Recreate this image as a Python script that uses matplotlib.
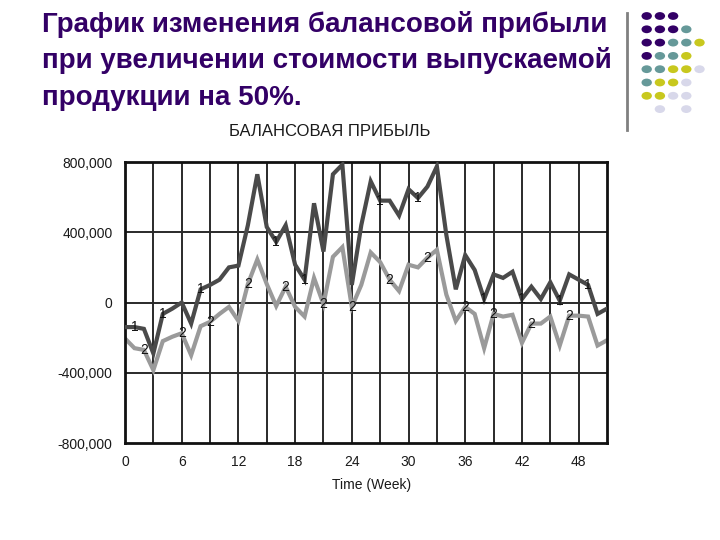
import matplotlib
matplotlib.use("Agg")
import matplotlib.pyplot as plt
from matplotlib.patches import Circle
from matplotlib.lines import Line2D
import numpy as np

# ---- data ----
weeks = list(range(52))
profit_1 = [-140, -140, -150, -290, -65, -35, 0, -120, 75, 100, 130, 200, 210, 440,
            730, 430, 345, 440, 215, 130, 565, 290, 730, 785, 100, 440, 690, 580,
            580, 495, 645, 595, 660, 775, 385, 75, 270, 185, 20, 160, 140, 175,
            20, 90, 20, 115, 10, 160, 130, 100, -65, -35]
profit_2 = [-205, -260, -270, -385, -220, -195, -175, -300, -135, -110, -65, -25, -105, 105,
            245, 105, -20, 90, -25, -80, 140, -10, 260, 315, -25, 100, 285, 230,
            130, 65, 215, 200, 255, 300, 45, -105, -25, -65, -260, -65, -80, -70,
            -230, -120, -120, -80, -245, -75, -75, -80, -245, -215]
profit_1 = [v * 1000 for v in profit_1]
profit_2 = [v * 1000 for v in profit_2]
label_weeks_1 = [1, 4, 8, 16, 19, 27, 31, 38, 42, 46, 49]
label_weeks_2 = [2, 6, 9, 13, 17, 21, 24, 28, 32, 36, 39, 43, 47]
x_ticks = [0, 6, 12, 18, 24, 30, 36, 42, 48]
y_ticks = [-800000, -400000, 0, 400000, 800000]
y_tick_labels = ["-800,000", "-400,000", "0", "400,000", "800,000"]

title_lines = ["График изменения балансовой прибыли",
               "при увеличении стоимости выпускаемой",
               "продукции на 50%."]
chart_title = "БАЛАНСОВАЯ ПРИБЫЛЬ"
x_label = "Time (Week)"

plt.rcParams['font.family'] = ['Liberation Sans', 'DejaVu Sans']

fig = plt.figure(figsize=(7.2, 5.4), dpi=100)
fig.patch.set_facecolor('white')

ax = fig.add_axes([125/720, 1-443/540, (607-125)/720, (443-162)/540])
ax.set_xlim(0, 51)
ax.set_ylim(-800000, 800000)

# grid
for gx in range(3, 51, 3):
    ax.axvline(gx, color='#2a2a2a', lw=1.4, zorder=1)
for gy in [-400000, 0, 400000]:
    ax.axhline(gy, color='#2a2a2a', lw=1.4, zorder=1)

ax.plot(weeks, profit_2, color='#9a9a9a', lw=3.0, zorder=2, solid_joinstyle='miter')
ax.plot(weeks, profit_1, color='#4a4a4a', lw=3.0, zorder=3, solid_joinstyle='miter')

for w in label_weeks_1:
    ax.text(w, profit_1[w], "1", ha='center', va='center', fontsize=10, color='#111111', zorder=4)
for w in label_weeks_2:
    ax.text(w, profit_2[w], "2", ha='center', va='center', fontsize=10, color='#111111', zorder=4)

ax.set_xticks(x_ticks)
ax.set_xticklabels([str(t) for t in x_ticks])
ax.set_yticks(y_ticks)
ax.set_yticklabels(y_tick_labels)
ax.tick_params(length=0, labelsize=10, colors='#1a1a1a', pad=9)
for s in ax.spines.values():
    s.set_linewidth(2)
    s.set_color('#111111')

ax.set_xlabel(x_label, fontsize=10, color='#1a1a1a')
ax.xaxis.set_label_coords((372-125)/(607-125), -0.125)
fig.text(330/720, 1-131/540, chart_title, ha='center', va='center', fontsize=12,
         color='#1a1a1a')

for i, line in enumerate(title_lines):
    fig.text(42/720, 1-(24 + 37*i)/540, line, ha='left', va='center', fontsize=20,
             fontweight='bold', color='#330066')

# decoration: dot grid and vertical bar
fig.add_artist(Line2D([627/720, 627/720], [1-13/540, 1-130/540], color='#808080', lw=2))
palette = {'P': '#330066', 'T': '#669999', 'Y': '#c8c81e', 'L': '#d8d8ea'}
pattern = ["PPP..", "PPPT.", "PPTTY", "PTTY.", "TTYYL", "TYYL.", "YYLL.", ".L.L."]
for r, row in enumerate(pattern):
    for c, ch in enumerate(row):
        if ch == '.':
            continue
        cx = (646.7 + 13.2 * c) / 720
        cy = 1 - (16 + 13.3 * r) / 540
        fig.add_artist(Circle((cx, cy), radius=5.2/720, transform=fig.transFigure,
                              color=palette[ch], ec='none'))

fig.savefig("out.png", dpi=100)
